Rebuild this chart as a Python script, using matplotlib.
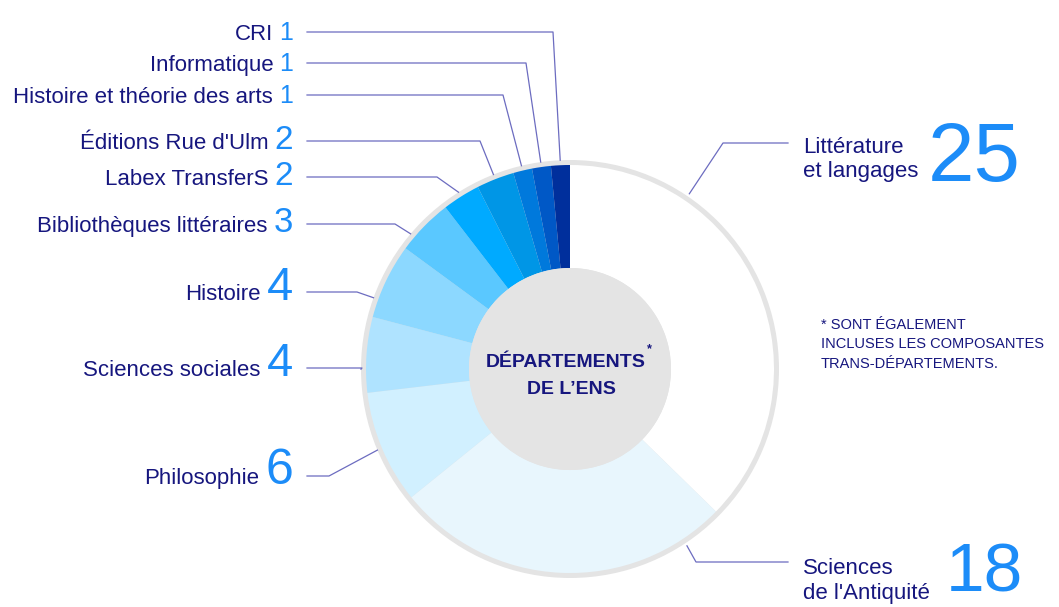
import matplotlib
matplotlib.use('Agg')
import matplotlib.pyplot as plt
from matplotlib.patches import Circle
import numpy as np

# --- data -------------------------------------------------------------
labels = ["Littérature\net langages", "Sciences\nde l'Antiquité", "Philosophie",
          "Sciences sociales", "Histoire", "Bibliothèques littéraires",
          "Labex TransferS", "Éditions Rue d'Ulm", "Histoire et théorie des arts",
          "Informatique", "CRI"]
counts = [25, 18, 6, 4, 4, 3, 2, 2, 1, 1, 1]
colors = ['#ffffff', '#e8f6fd', '#d1f0ff', '#afe3ff', '#8cd8ff', '#5ac8ff',
          '#00aaff', '#0096e6', '#0079dc', '#0058c6', '#002f9c']
center_lines = ["DÉPARTEMENTS", "DE L’ENS"]
note_text = "* SONT ÉGALEMENT\nINCLUSES LES COMPOSANTES\nTRANS-DÉPARTEMENTS."

# --- layout (pixels) ----------------------------------------------------
W, H = 1059, 607
CX, CY = 570, 369
R_OUT, R_IN, R_RING = 204, 101, 209
NAVY = '#16167e'
BLUE = '#1c8cf8'
LINE = '#6c6cc0'
FONT = ['Liberation Sans', 'DejaVu Sans']
LABEL_PT = 16

# left labels: leader y, elbow x, where along the wedge the leader lands
left_y = {2: 476, 3: 368, 4: 292, 5: 224, 6: 177, 7: 141, 8: 95, 9: 63, 10: 32}
left_elbow = {2: 329, 3: 362, 4: 357, 5: 395, 6: 437, 7: 480, 8: 503, 9: 526, 10: 553}
left_frac = {2: 0.5, 3: 0.31, 4: 0.24, 5: 0.25, 6: 0.5, 7: 0.5, 8: 0.5, 9: 0.5, 10: 0.5}
num_size = {0: 60, 1: 50, 2: 36, 3: 34, 4: 34, 5: 25, 6: 24, 7: 24, 8: 18, 9: 18, 10: 18}

plt.rcParams['font.family'] = FONT
fig = plt.figure(figsize=(W / 100, H / 100), dpi=100)
ax = fig.add_axes([0, 0, 1, 1])

# grey outer ring + donut + grey centre
ax.add_patch(Circle((CX, CY), R_RING, color='#e4e4e4', lw=0, zorder=0))
wedges, _ = ax.pie(counts, colors=colors, radius=R_OUT, center=(CX, CY),
                   startangle=-90, counterclock=True,
                   wedgeprops=dict(width=R_OUT - R_IN, linewidth=0))
ax.add_patch(Circle((CX, CY), R_IN, color='#e4e4e4', lw=0, zorder=3))

ax.set_xlim(0, W)
ax.set_ylim(H, 0)
ax.set_aspect('auto')
ax.axis('off')

renderer = fig.canvas.get_renderer()


def attach(i, frac, r=R_RING):
    w = wedges[i]
    th = np.radians(w.theta1 + frac * (w.theta2 - w.theta1))
    return CX + r * np.cos(th), CY + r * np.sin(th)


# left side labels
for i in range(2, len(counts)):
    y = left_y[i]
    px, py = attach(i, left_frac[i])
    ax.plot([307, left_elbow[i], px], [y, y, py], color=LINE, lw=0.9, zorder=1)
    t = ax.text(293, y + 8, str(counts[i]), ha='right', va='baseline',
                color=BLUE, fontsize=num_size[i])
    bb = t.get_window_extent(renderer).transformed(ax.transData.inverted())
    ax.text(min(bb.x0, bb.x1) - 6, y + 8, labels[i], ha='right', va='baseline',
            color=NAVY, fontsize=LABEL_PT)

# right side labels (two big ones)
right_cfg = {0: dict(y=143, elbow=723, frac=0.255, base=(153, 177), nx=928, nb=181),
             1: dict(y=562, elbow=696, frac=0.126, base=(574, 599), nx=946, nb=592)}
for i, c in right_cfg.items():
    px, py = attach(i, c['frac'], r=R_RING + 3)
    ax.plot([788, c['elbow'], px], [c['y'], c['y'], py], color=LINE, lw=0.9, zorder=1)
    for line, b in zip(labels[i].split('\n'), c['base']):
        ax.text(803, b, line, ha='left', va='baseline', color=NAVY, fontsize=LABEL_PT)
    ax.text(c['nx'], c['nb'], str(counts[i]), ha='left', va='baseline',
            color=BLUE, fontsize=num_size[i])

# centre title
t = ax.text(566, 367, center_lines[0], ha='center', va='baseline', color=NAVY,
            fontsize=14, fontweight='bold', zorder=4)
bb = t.get_window_extent(renderer).transformed(ax.transData.inverted())
ax.text(max(bb.x0, bb.x1) + 1, 352, '*', ha='left', va='baseline', color=NAVY,
        fontsize=9, fontweight='bold', zorder=4)
ax.text(571, 394, center_lines[1], ha='center', va='baseline', color=NAVY,
        fontsize=14, fontweight='bold', zorder=4)

# footnote
ax.text(821, 318, note_text, ha='left', va='top', color=NAVY, fontsize=10.5,
        linespacing=1.5)

fig.savefig('out.png', dpi=100)
